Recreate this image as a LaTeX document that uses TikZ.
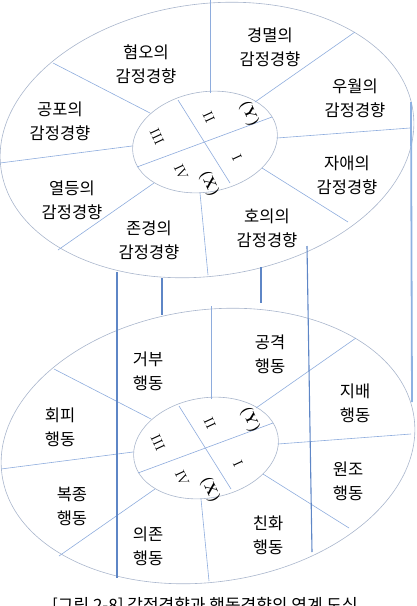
\documentclass[tikz,border=0pt]{standalone}
\usepackage{fontspec}
\newfontfamily\krfont{Noto Sans CJK KR}
\definecolor{rimgray}{HTML}{A9B6CC}
\definecolor{spokeblue}{HTML}{8EACDD}
\definecolor{linkblue}{HTML}{5E86C6}
\definecolor{sidelink}{HTML}{8DB1E2}

\tikzset{
  rim/.style={draw=rimgray, line width=0.6pt},
  spoke/.style={draw=spokeblue, line width=0.6pt},
  link/.style={draw=linkblue, line width=1.1pt},
  tendency/.style={font=\krfont\fontsize{16.5}{24}\selectfont, align=center, inner sep=0pt},
  numeral/.style={font=\fontsize{14}{14}\selectfont, rotate=-65, inner sep=0pt},
  axisname/.style={font=\bfseries\fontsize{15}{15}\selectfont, rotate=-65, inner sep=0pt}
}

% one ring: outer and inner ellipse, spokes, quadrants
\newcommand{\ringframe}{%
  \draw[rim, rotate around={8:(207,140)}] (207,140) ellipse [x radius=208, y radius=136];
  \draw[rim, fill=white, rotate around={10:(205,142)}] (205,142) ellipse [x radius=73, y radius=50];
  \draw[spoke] (210,93) -- (210,0);
  \draw[spoke] (255,102) -- (355,32);
  \draw[spoke] (277,138) -- (410,128);
  \draw[spoke] (262,168) -- (348,222);
  \draw[spoke] (200,193) -- (208,275);
  \draw[spoke] (154,183) -- (58,250);
  \draw[spoke] (132,146) -- (0,163);
  \draw[spoke] (150,113) -- (53,63);
  \draw[spoke] (178,100) -- (230,183);
  \draw[spoke] (137,167) -- (272,117);
  \node[numeral] at (209,117) {II};
  \node[numeral] at (157,137) {III};
  \node[numeral] at (237,158) {I};
  \node[numeral] at (181,172) {IV};
  \node[axisname] at (249,114) {(Y)};
  \node[axisname] at (209,184) {(X)};
}

\begin{document}
\begin{tikzpicture}[x=1pt,y=-1pt]
  \useasboundingbox (0,0) rectangle (417,606);

  % emotional tendencies
  \ringframe
  \node[tendency] (hyeomo) at (146,64) {혐오의\\감정경향};
  \node[tendency] (gyeongmyeol) at (270,47) {경멸의\\감정경향};
  \node[tendency] (uwol) at (355,98) {우월의\\감정경향};
  \node[tendency] (jaae) at (347,175) {자애의\\감정경향};
  \node[tendency] (houi) at (267,228) {호의의\\감정경향};
  \node[tendency] (jongyeong) at (149,240) {존경의\\감정경향};
  \node[tendency] (yeoldeung) at (72,200) {열등의\\감정경향};
  \node[tendency] (gongpo) at (60,121) {공포의\\감정경향};

  % behavioural tendencies
  \begin{scope}[shift={(1,306)}]
    \ringframe
  \end{scope}
  \node[tendency] (geobu) at (148,371) {거부\\행동};
  \node[tendency] (gonggyeok) at (270,354) {공격\\행동};
  \node[tendency] (jibae) at (355,403) {지배\\행동};
  \node[tendency] (wonjo) at (348,481) {원조\\행동};
  \node[tendency] (chinhwa) at (268,535) {친화\\행동};
  \node[tendency] (uijon) at (148,546) {의존\\행동};
  \node[tendency] (bokjong) at (72,506) {복종\\행동};
  \node[tendency] (hoepi) at (60,427) {회피\\행동};

  % links between the rings
  \draw[link] (117,272) -- (117,578);
  \draw[link] (162,278) -- (162,315);
  \draw[link] (261,267) -- (261,303);
  \draw[link] (307,246) -- (312,552);
  \draw[draw=sidelink, line width=1.8pt] (411,102) -- (412,402);

  \node[font=\krfont\fontsize{17}{17}\selectfont, anchor=base] (caption) at (205,611)
    {[그림 2-8] 감정경향과 행동경향의 연계 도식};
\end{tikzpicture}
\end{document}
